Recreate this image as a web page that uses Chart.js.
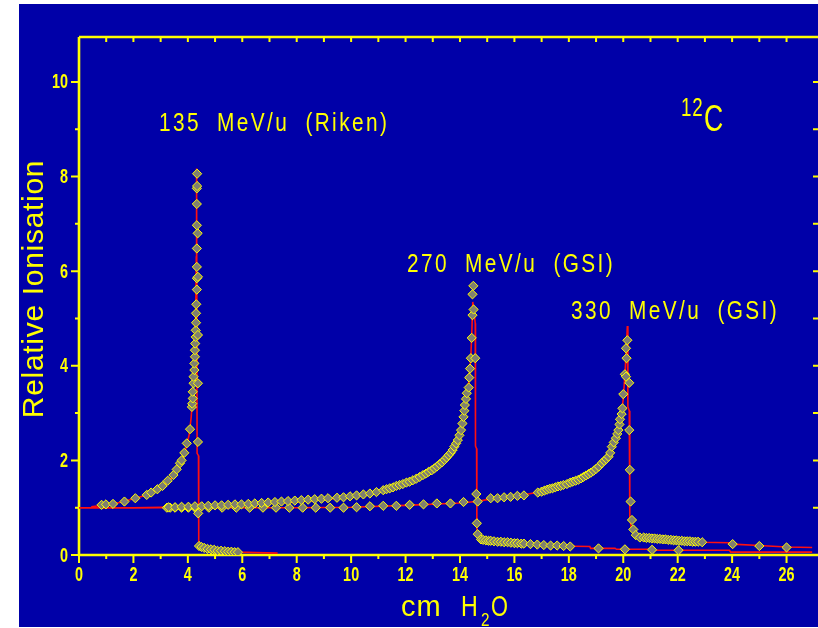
<!DOCTYPE html>
<html>
<head>
<meta charset="utf-8">
<title>Ionisation relativa 12C</title>
<script src="https://cdn.jsdelivr.net/npm/chart.js@4.4.0/dist/chart.umd.min.js"></script>
<style>
  html, body { margin: 0; padding: 0; background: #ffffff; }
  #contenedor { width: 818px; height: 628px; }
</style>
</head>
<body>
<div id="contenedor"><canvas id="myChart" width="818" height="628"></canvas></div>
<script>
// valores: [profundidad cm H2O, ionización relativa]
const curvaRiken135 = [
  [0.45, 1.02], [1.0, 1.06], [1.5, 1.11], [2.0, 1.19], [2.5, 1.27], [3.0, 1.42], [3.3, 1.55],
  [3.6, 1.78], [3.8, 2.0], [3.95, 2.3], [4.05, 2.55], [4.12, 2.9], [4.17, 3.3], [4.22, 3.8],
  [4.26, 4.4], [4.29, 5.2], [4.31, 6.3], [4.32, 8.17], [4.34, 2.15], [4.39, 2.1], [4.40, 0.25],
  [4.45, 0.18], [4.8, 0.13], [5.3, 0.09], [5.9, 0.06], [6.5, 0.05], [7.3, 0.04]
];
const medidasRiken135 = [
  [0.83, 1.06], [0.99, 1.07], [1.25, 1.08], [1.67, 1.13], [2.07, 1.20], [2.49, 1.27], [2.65, 1.32],
  [2.88, 1.39], [3.07, 1.46], [3.26, 1.57], [3.47, 1.69], [3.59, 1.81], [3.71, 1.94], [3.77, 2.0],
  [3.87, 2.16], [3.96, 2.36], [4.08, 2.66], [4.15, 3.13], [4.16, 3.2], [4.18, 3.31], [4.18, 3.45],
  [4.21, 3.63], [4.21, 3.77], [4.24, 3.91], [4.24, 4.05], [4.26, 4.19], [4.26, 4.33], [4.27, 4.47],
  [4.29, 4.61], [4.29, 4.75], [4.30, 4.91], [4.30, 5.11], [4.31, 5.30], [4.33, 5.61], [4.33, 5.85],
  [4.33, 6.09], [4.33, 6.48], [4.36, 6.80], [4.33, 6.97], [4.33, 7.42], [4.33, 7.75], [4.34, 7.8],
  [4.34, 8.06], [4.37, 5.88], [4.37, 4.65], [4.37, 3.63], [4.37, 2.39], [4.38, 0.88],
  [4.41, 0.19], [4.5, 0.17], [4.6, 0.15], [4.72, 0.13], [4.85, 0.12], [4.97, 0.11], [5.09, 0.09],
  [5.22, 0.09], [5.36, 0.08], [5.48, 0.07], [5.60, 0.07], [5.72, 0.06], [5.84, 0.06]
];
const curvaGsi270 = [
  [0, 1.0], [2, 1.0], [4, 1.02], [6, 1.06], [8, 1.12], [9, 1.17], [10, 1.24], [11, 1.33],
  [11.5, 1.4], [12, 1.5], [12.5, 1.63], [13, 1.8], [13.4, 2.0], [13.7, 2.22], [13.9, 2.45],
  [14.05, 2.7], [14.15, 2.95], [14.25, 3.3], [14.33, 3.7], [14.4, 4.2], [14.44, 4.8], [14.47, 5.35],
  [14.56, 4.9], [14.57, 2.3], [14.61, 2.25], [14.62, 0.55], [14.7, 0.40], [14.85, 0.34],
  [15.2, 0.30], [15.6, 0.27], [16.1, 0.25], [16.6, 0.23], [17.1, 0.21], [17.6, 0.19],
  [18.77, 0.18], [18.8, 0.14], [19.7, 0.14], [19.75, 0.12], [21.1, 0.12], [21.15, 0.10],
  [23.9, 0.10], [23.95, 0.06], [26.95, 0.06]
];
const medidasGsi270 = [
  [3.29, 1.01], [3.53, 1.01], [3.77, 1.02], [4.02, 1.02], [4.26, 1.03], [4.51, 1.03], [4.75, 1.04],
  [5.0, 1.05], [5.24, 1.05], [5.48, 1.06], [5.73, 1.07], [5.97, 1.07], [6.22, 1.08], [6.46, 1.09],
  [6.71, 1.10], [6.95, 1.11], [7.2, 1.12], [7.44, 1.13], [7.68, 1.14], [7.93, 1.15], [8.17, 1.16],
  [8.42, 1.17], [8.66, 1.18], [8.91, 1.19], [9.15, 1.20], [9.48, 1.21], [9.72, 1.22], [9.96, 1.24],
  [10.2, 1.26], [10.45, 1.28], [10.69, 1.30], [10.93, 1.33], [11.18, 1.37], [11.3, 1.39],
  [11.42, 1.41], [11.54, 1.43], [11.66, 1.46], [11.78, 1.48], [11.9, 1.50], [12.03, 1.53],
  [12.15, 1.55], [12.27, 1.58], [12.39, 1.61], [12.52, 1.65], [12.64, 1.69], [12.75, 1.72],
  [12.85, 1.76], [12.96, 1.79], [13.06, 1.83], [13.15, 1.87], [13.25, 1.92], [13.34, 1.96],
  [13.43, 2.01], [13.51, 2.06], [13.58, 2.11], [13.66, 2.16], [13.73, 2.22], [13.79, 2.29],
  [13.86, 2.36], [13.92, 2.43], [13.98, 2.53], [14.04, 2.64], [14.09, 2.78], [14.13, 2.92],
  [14.16, 3.05], [14.18, 3.17], [14.22, 3.3], [14.25, 3.42], [14.32, 3.54], [14.34, 3.75],
  [14.37, 3.94], [14.40, 4.16], [14.43, 4.59], [14.46, 5.07], [14.50, 5.19], [14.46, 5.51],
  [14.49, 5.69], [14.56, 4.16], [14.60, 1.29], [14.62, 0.67], [14.65, 0.44], [14.77, 0.33],
  [14.85, 0.32], [14.95, 0.31], [15.05, 0.30], [15.13, 0.30], [15.25, 0.29], [15.38, 0.28],
  [15.5, 0.28], [15.62, 0.27], [15.75, 0.27], [15.87, 0.26], [16.0, 0.25], [16.11, 0.25],
  [16.25, 0.24], [16.35, 0.24], [16.59, 0.23], [16.84, 0.22], [17.08, 0.21], [17.33, 0.20],
  [17.57, 0.20], [17.81, 0.19], [18.05, 0.18], [19.09, 0.14], [20.06, 0.12], [21.06, 0.11],
  [22.03, 0.10]
];
const curvaGsi330 = [
  [0, 1.0], [4, 1.0], [8, 1.0], [10, 1.01], [12, 1.05], [14, 1.1], [14.6, 1.13], [15, 1.17],
  [16, 1.24], [16.5, 1.29], [17, 1.34], [17.5, 1.42], [18, 1.52], [18.5, 1.64], [19, 1.82],
  [19.3, 1.97], [19.55, 2.2], [19.75, 2.5], [19.9, 2.85], [20.0, 3.3], [20.07, 3.9], [20.12, 4.45],
  [20.15, 4.84], [20.17, 3.13], [20.22, 3.05], [20.24, 0.8], [20.3, 0.55], [20.43, 0.45],
  [20.7, 0.38], [21.0, 0.35], [22.0, 0.31], [22.9, 0.27], [23.9, 0.26], [24.0, 0.23],
  [25.0, 0.20], [26.0, 0.17], [26.95, 0.16]
];
const medidasGsi330 = [
  [3.23, 1.0], [3.35, 1.0], [3.53, 1.0], [3.77, 1.0], [4.02, 1.0], [4.26, 1.0], [4.77, 1.0],
  [5.26, 1.0], [5.78, 1.0], [6.27, 1.0], [6.76, 1.0], [7.24, 1.0], [7.73, 1.0], [8.22, 1.0],
  [8.7, 1.0], [9.23, 1.0], [9.72, 1.0], [10.2, 1.01], [10.69, 1.03], [11.18, 1.04], [11.66, 1.04],
  [12.15, 1.06], [12.66, 1.07], [13.15, 1.09], [13.65, 1.09], [14.13, 1.12], [14.65, 1.13],
  [15.13, 1.20], [15.38, 1.20], [15.62, 1.22], [15.86, 1.23], [16.11, 1.25], [16.35, 1.26],
  [16.86, 1.32], [17.0, 1.34], [17.1, 1.36], [17.2, 1.38], [17.3, 1.40], [17.4, 1.41],
  [17.5, 1.43], [17.6, 1.45], [17.7, 1.46], [17.8, 1.48], [17.93, 1.50], [18.05, 1.53],
  [18.15, 1.55], [18.25, 1.57], [18.35, 1.59], [18.45, 1.62], [18.54, 1.65], [18.63, 1.68],
  [18.72, 1.71], [18.81, 1.74], [18.91, 1.78], [19.0, 1.82], [19.1, 1.87], [19.21, 1.94],
  [19.3, 1.99], [19.38, 2.03], [19.46, 2.08], [19.52, 2.16], [19.58, 2.29], [19.65, 2.38],
  [19.73, 2.47], [19.78, 2.56], [19.82, 2.64], [19.86, 2.76], [19.88, 2.87], [19.94, 2.98],
  [19.97, 3.10], [20.0, 3.40], [20.06, 3.82], [20.10, 3.77], [20.12, 4.16], [20.10, 4.37],
  [20.15, 4.54], [20.22, 3.64], [20.22, 2.64], [20.24, 1.80], [20.27, 1.13], [20.32, 0.74],
  [20.37, 0.54], [20.46, 0.42], [20.61, 0.37], [20.75, 0.37], [20.85, 0.36], [20.95, 0.36],
  [21.05, 0.35], [21.15, 0.35], [21.25, 0.34], [21.35, 0.34], [21.45, 0.33], [21.55, 0.33],
  [21.65, 0.32], [21.75, 0.32], [21.85, 0.31], [21.95, 0.31], [22.05, 0.30], [22.15, 0.30],
  [22.25, 0.29], [22.35, 0.29], [22.45, 0.29], [22.55, 0.28], [22.65, 0.28], [22.75, 0.28],
  [22.9, 0.27], [24.02, 0.23], [25.0, 0.19], [26.0, 0.16]
];
const etiquetasHaz = ["135 MeV/u (Riken)", "270 MeV/u (GSI)", "330 MeV/u (GSI)"];
const tituloX = ["cm", "H", "2", "O"];
const tituloY = "Relative Ionisation";
const ion = ["12", "C"];

const azul = "#0000a8";
const amarillo = "#ffff00";
const rojo = "#ff1010";
const grisMarca = "#808070";
const letra = "'Liberation Sans', Arial, sans-serif";

//convierte los pares a puntos para chart.js
const aPuntos = (pares) => pares.map((p) => ({ x: p[0], y: p[1] }));

//datasets de línea roja (calculada)
function lineaRoja(pares) {
  return {
    data: aPuntos(pares),
    showLine: true,
    borderColor: rojo,
    borderWidth: 1.6,
    pointRadius: 0,
    tension: 0,
    order: 1,
  };
}

//datasets de rombos amarillos (medidas)
function marcas(pares) {
  return {
    data: aPuntos(pares),
    showLine: false,
    pointStyle: "rectRot",
    pointRadius: 4.6,
    pointBorderWidth: 1,
    pointBorderColor: amarillo,
    pointBackgroundColor: grisMarca,
    order: 0,
  };
}

//escribe un texto estrechado en horizontal (la letra del original es angosta)
function escribir(ctx, texto, x, y, tam, o) {
  const sx = o.sx || 1;
  ctx.save();
  ctx.translate(x, y);
  ctx.scale(sx, 1);
  ctx.font = (o.peso || "normal") + " " + tam + "px " + letra;
  ctx.letterSpacing = (o.ls || 0) + "px";
  ctx.wordSpacing = (o.ws || 0) + "px";
  ctx.textAlign = o.al || "left";
  ctx.textBaseline = o.bl || "alphabetic";
  ctx.fillText(texto, 0, 0);
  ctx.restore();
}

//fondo blanco con el recuadro azul
const fondo = {
  id: "fondo",
  beforeDraw(chart) {
    const ctx = chart.ctx;
    ctx.save();
    ctx.fillStyle = "#ffffff";
    ctx.fillRect(0, 0, chart.width, chart.height);
    ctx.fillStyle = azul;
    ctx.fillRect(19, 4, chart.width - 19, chart.height - 5);
    ctx.restore();
  },
};

//ejes amarillos con marcas hacia fuera abajo/izquierda y hacia dentro arriba/derecha
const ejes = {
  id: "ejes",
  beforeDatasetsDraw(chart) {
    const { ctx, chartArea: a, scales } = chart;
    ctx.save();
    ctx.strokeStyle = amarillo;
    ctx.lineWidth = 2.6;
    ctx.beginPath();
    ctx.moveTo(a.left, a.top);
    ctx.lineTo(a.left, a.bottom);
    ctx.lineTo(chart.width, a.bottom);
    ctx.moveTo(a.left, a.top);
    ctx.lineTo(chart.width, a.top);
    ctx.stroke();
    ctx.lineWidth = 2;
    ctx.beginPath();
    scales.x.ticks.forEach((t) => {
      const px = scales.x.getPixelForValue(t.value);
      const largo = t.value % 2 === 0 ? 8 : 4;
      ctx.moveTo(px, a.bottom);
      ctx.lineTo(px, a.bottom + largo);
      ctx.moveTo(px, a.top);
      ctx.lineTo(px, a.top + 5);
    });
    scales.y.ticks.forEach((t) => {
      const py = scales.y.getPixelForValue(t.value);
      const largo = t.value % 2 === 0 ? 8 : 4;
      ctx.moveTo(a.left, py);
      ctx.lineTo(a.left - largo, py);
      ctx.moveTo(chart.width, py);
      ctx.lineTo(chart.width - 5, py);
    });
    ctx.stroke();

    //números de las marcas, sólo los pares
    ctx.fillStyle = amarillo;
    const estiloNum = { sx: 0.72, peso: "bold", bl: "middle" };
    scales.x.ticks.forEach((t) => {
      if (t.value % 2 !== 0) return;
      const px = scales.x.getPixelForValue(t.value);
      escribir(ctx, String(t.value), px, a.bottom + 20, 20, { ...estiloNum, al: "center" });
    });
    scales.y.ticks.forEach((t) => {
      if (t.value % 2 !== 0) return;
      const py = scales.y.getPixelForValue(t.value);
      escribir(ctx, String(t.value), a.left - 11, py + 1, 20, { ...estiloNum, al: "right" });
    });
    ctx.restore();
  },
};

//textos: títulos de ejes, etiquetas de cada haz e ion
const textos = {
  id: "textos",
  afterDraw(chart) {
    const ctx = chart.ctx;
    ctx.save();
    ctx.fillStyle = amarillo;

    const estiloHaz = { sx: 0.8, ls: 3, ws: 10 };
    escribir(ctx, etiquetasHaz[0], 159, 131, 26, estiloHaz);
    escribir(ctx, etiquetasHaz[1], 407, 272, 26, estiloHaz);
    escribir(ctx, etiquetasHaz[2], 571, 319, 26, estiloHaz);

    escribir(ctx, ion[0], 681, 116, 25, { sx: 0.75, ls: 1 });
    escribir(ctx, ion[1], 704, 131, 37, { sx: 0.72 });

    //título eje x con subíndice
    escribir(ctx, tituloX[0], 401, 616, 29, { ls: 1 });
    escribir(ctx, tituloX[1], 461, 616, 29, { sx: 0.8 });
    escribir(ctx, tituloX[2], 481, 626, 18, { sx: 0.85 });
    escribir(ctx, tituloX[3], 491, 616, 29, { sx: 0.75 });

    //título eje y rotado
    ctx.translate(43, 289);
    ctx.rotate(-Math.PI / 2);
    escribir(ctx, tituloY, 0, 0, 30, { al: "center", ls: 0.7 });
    ctx.restore();
  },
};

const config = {
  type: "scatter",
  data: {
    datasets: [
      marcas(medidasRiken135),
      marcas(medidasGsi270),
      marcas(medidasGsi330),
      lineaRoja(curvaRiken135),
      lineaRoja(curvaGsi270),
      lineaRoja(curvaGsi330),
    ],
  },
  options: {
    responsive: false,
    animation: false,
    layout: { padding: { top: 37, right: 1, left: 0, bottom: 0 } },
    plugins: { legend: { display: false }, tooltip: { enabled: false } },
    scales: {
      x: {
        type: "linear",
        min: 0,
        max: 26.95,
        grid: { display: false },
        border: { display: false },
        afterFit: (escala) => { escala.height = 73; },
        ticks: { stepSize: 1, autoSkip: false, includeBounds: false, display: false },
      },
      y: {
        type: "linear",
        min: 0,
        max: 10.95,
        grid: { display: false },
        border: { display: false },
        afterFit: (escala) => { escala.width = 79; },
        ticks: { stepSize: 1, autoSkip: false, includeBounds: false, display: false },
      },
    },
  },
  plugins: [fondo, ejes, textos],
};

const chart = new Chart(document.getElementById("myChart"), config);
</script>
</body>
</html>
